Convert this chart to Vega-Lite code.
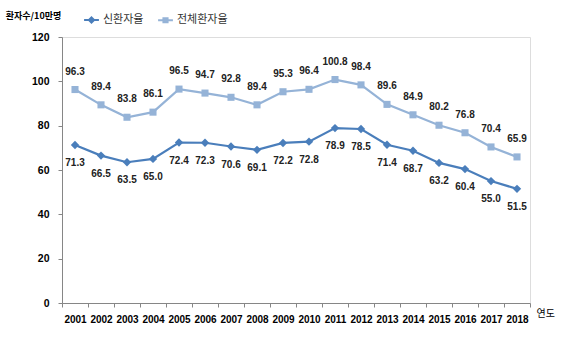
{
  "$schema": "https://vega.github.io/schema/vega-lite/v6.json",
  "autosize": "none",
  "width": 468,
  "height": 266,
  "padding": {"left": 62, "top": 37, "right": 37, "bottom": 47},
  "background": "white",
  "data": {"values": [
    {"year": "2001", "series": "신환자율", "value": 71.3},
    {"year": "2002", "series": "신환자율", "value": 66.5},
    {"year": "2003", "series": "신환자율", "value": 63.5},
    {"year": "2004", "series": "신환자율", "value": 65.0},
    {"year": "2005", "series": "신환자율", "value": 72.4},
    {"year": "2006", "series": "신환자율", "value": 72.3},
    {"year": "2007", "series": "신환자율", "value": 70.6},
    {"year": "2008", "series": "신환자율", "value": 69.1},
    {"year": "2009", "series": "신환자율", "value": 72.2},
    {"year": "2010", "series": "신환자율", "value": 72.8},
    {"year": "2011", "series": "신환자율", "value": 78.9},
    {"year": "2012", "series": "신환자율", "value": 78.5},
    {"year": "2013", "series": "신환자율", "value": 71.4},
    {"year": "2014", "series": "신환자율", "value": 68.7},
    {"year": "2015", "series": "신환자율", "value": 63.2},
    {"year": "2016", "series": "신환자율", "value": 60.4},
    {"year": "2017", "series": "신환자율", "value": 55.0},
    {"year": "2018", "series": "신환자율", "value": 51.5},
    {"year": "2001", "series": "전체환자율", "value": 96.3},
    {"year": "2002", "series": "전체환자율", "value": 89.4},
    {"year": "2003", "series": "전체환자율", "value": 83.8},
    {"year": "2004", "series": "전체환자율", "value": 86.1},
    {"year": "2005", "series": "전체환자율", "value": 96.5},
    {"year": "2006", "series": "전체환자율", "value": 94.7},
    {"year": "2007", "series": "전체환자율", "value": 92.8},
    {"year": "2008", "series": "전체환자율", "value": 89.4},
    {"year": "2009", "series": "전체환자율", "value": 95.3},
    {"year": "2010", "series": "전체환자율", "value": 96.4},
    {"year": "2011", "series": "전체환자율", "value": 100.8},
    {"year": "2012", "series": "전체환자율", "value": 98.4},
    {"year": "2013", "series": "전체환자율", "value": 89.6},
    {"year": "2014", "series": "전체환자율", "value": 84.9},
    {"year": "2015", "series": "전체환자율", "value": 80.2},
    {"year": "2016", "series": "전체환자율", "value": 76.8},
    {"year": "2017", "series": "전체환자율", "value": 70.4},
    {"year": "2018", "series": "전체환자율", "value": 65.9}
  ]},
  "encoding": {
    "x": {
      "field": "year", "type": "ordinal",
      "scale": {"type": "band", "paddingInner": 0, "paddingOuter": 0},
      "axis": {
        "title": "연도", "titleAngle": 0, "titleX": 474, "titleY": 10,
        "titleAlign": "left", "titleBaseline": "middle",
        "titleFont": "Noto Sans CJK KR", "titleFontSize": 10, "titleFontWeight": "normal", "titleColor": "#000000",
        "labelAngle": 0, "labelFont": "Liberation Sans", "labelFontSize": 10, "labelFontWeight": "bold", "labelColor": "#000000",
        "labelPadding": 7,
        "tickBand": "extent", "tickColor": "#868686", "tickSize": 4,
        "domainColor": "#868686", "grid": false
      }
    },
    "y": {
      "field": "value", "type": "quantitative",
      "scale": {"domain": [0, 120], "nice": false},
      "axis": {
        "title": "환자수/10만명", "titleAngle": 0, "titleX": -29, "titleY": -22,
        "titleAlign": "center", "titleBaseline": "middle",
        "titleFont": "Noto Sans CJK KR", "titleFontSize": 9, "titleFontWeight": "bold", "titleColor": "#000000",
        "values": [0, 20, 40, 60, 80, 100, 120],
        "labelFont": "Liberation Sans", "labelFontSize": 10.5, "labelFontWeight": "bold", "labelColor": "#000000",
        "labelPadding": 9, "tickColor": "#868686", "tickSize": 4,
        "domainColor": "#868686", "grid": false
      }
    },
    "color": {
      "field": "series", "type": "nominal",
      "scale": {"domain": ["신환자율", "전체환자율"], "range": ["#4A7EBB", "#95B3D7"]},
      "legend": {
        "title": null, "orient": "none", "legendX": 21, "legendY": -26,
        "direction": "horizontal",
        "labelFont": "Noto Sans CJK KR", "labelFontSize": 11, "labelColor": "#333333",
        "symbolSize": 220, "symbolStrokeWidth": 2, "columnPadding": 10, "labelOffset": 3,
        "encode": {"symbols": {"update": {
          "shape": {"signal": "datum.value === '신환자율' ? 'M-1,0H1M0,-0.35L0.35,0L0,0.35L-0.35,0Z' : 'M-1,0H1M-0.28,-0.28H0.28V0.28H-0.28Z'"},
          "fill": {"signal": "datum.value === '신환자율' ? '#4A7EBB' : '#95B3D7'"},
          "stroke": {"signal": "datum.value === '신환자율' ? '#4A7EBB' : '#95B3D7'"},
          "fillOpacity": {"value": 1}
        }}}
      }
    }
  },
  "layer": [
    {"mark": {"type": "line", "strokeWidth": 2.2}},
    {"transform": [{"filter": "datum.series === '신환자율'"}],
     "mark": {"type": "point", "shape": "diamond", "filled": true, "opacity": 1, "size": 70}},
    {"transform": [{"filter": "datum.series === '전체환자율'"}],
     "mark": {"type": "point", "shape": "square", "filled": true, "opacity": 1, "size": 50}},
    {"transform": [{"filter": "datum.series === '신환자율'"}],
     "mark": {"type": "text", "dy": 18, "font": "Liberation Sans", "fontSize": 10, "fontWeight": "bold", "color": "#222222"},
     "encoding": {"text": {"field": "value", "type": "quantitative", "format": ".1f"}, "color": {"value": "#222222"}}},
    {"transform": [{"filter": "datum.series === '전체환자율'"}],
     "mark": {"type": "text", "dy": -18, "font": "Liberation Sans", "fontSize": 10, "fontWeight": "bold", "color": "#222222"},
     "encoding": {"text": {"field": "value", "type": "quantitative", "format": ".1f"}, "color": {"value": "#222222"}}}
  ]
}
